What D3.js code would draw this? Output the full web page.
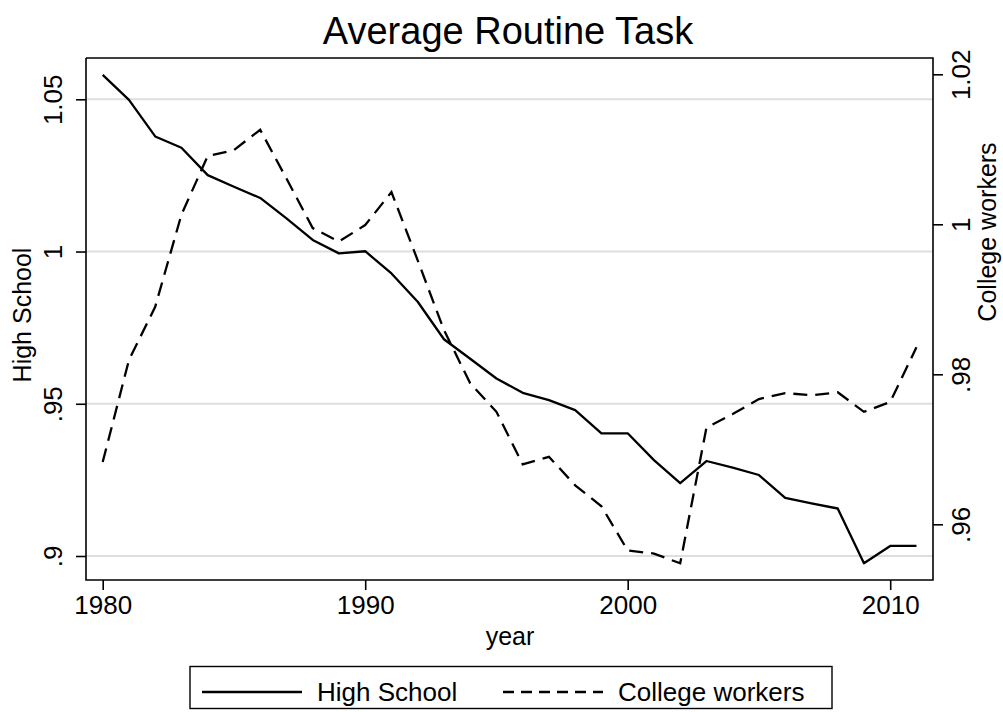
<!DOCTYPE html>
<html>
<head>
<meta charset="utf-8">
<script src="https://cdn.jsdelivr.net/npm/d3@7"></script>
<style>
  body { margin: 0; background: #fff; }
  svg text { font-family: "Liberation Sans", Arial, Helvetica, sans-serif; fill: #000; }
</style>
</head>
<body>
<svg id="chart" width="1003" height="712"></svg>
<script>
const w = 1003, h = 712;

const years = [1980, 1981, 1982, 1983, 1984, 1985, 1986, 1987, 1988, 1989,
               1990, 1991, 1992, 1993, 1994, 1995, 1996, 1997, 1998, 1999,
               2000, 2001, 2002, 2003, 2004, 2005, 2006, 2007, 2008, 2009,
               2010, 2011];
const highSchool = [1.058, 1.0498, 1.0378, 1.0341, 1.0251, 1.0213, 1.0176, 1.0109, 1.0038, 0.9994,
                    1.0001, 0.9928, 0.9835, 0.9712, 0.9648, 0.9583, 0.9536, 0.9512, 0.9479, 0.9403,
                    0.9403, 0.9315, 0.9239, 0.9312, 0.9290, 0.9266, 0.9191, 0.9173, 0.9156, 0.8976,
                    0.9033, 0.9033];
const college = [0.9683, 0.9819, 0.9890, 1.0013, 1.0091, 1.0099, 1.0126, 1.0061, 0.9995, 0.9977,
                 0.9999, 1.0043, 0.9952, 0.9859, 0.9788, 0.9750, 0.9680, 0.9690, 0.9652, 0.9624,
                 0.9565, 0.9561, 0.9548, 0.9729, 0.9747, 0.9767, 0.9775, 0.9772, 0.9776, 0.9750,
                 0.9763, 0.9836];

const xTicks = [1980, 1990, 2000, 2010];
const yLeftTicks = [0.9, 0.95, 1, 1.05];
const yRightTicks = [0.96, 0.98, 1, 1.02];

const plot = {left: 86, right: 933, top: 58, bottom: 580};

const x = d3.scaleLinear().domain([1980, 2010]).range([102.7, 890.2]);
const yL = d3.scaleLinear().domain([0.9, 1.05]).range([556, 99.3]);
const yR = d3.scaleLinear().domain([0.96, 1.02]).range([524.3, 74.3]);

// stata style labels: no leading zero
const fmt = v => String(+v.toFixed(2)).replace(/^0\./, '.');

const svg = d3.select('#chart');

// grid lines (left axis)
svg.append('g').selectAll('line')
   .data(yLeftTicks)
   .enter()
   .append('line')
   .attr('x1', plot.left).attr('x2', plot.right)
   .attr('y1', d => yL(d)).attr('y2', d => yL(d))
   .attr('stroke', '#dedede')
   .attr('stroke-width', 2);

// series
const line = yScale => d3.line().x((d, i) => x(years[i])).y(d => yScale(d));

svg.append('path')
   .datum(highSchool)
   .attr('d', line(yL))
   .attr('fill', 'none')
   .attr('stroke', '#000')
   .attr('stroke-width', 2.3)
   .attr('stroke-linejoin', 'round');

svg.append('path')
   .datum(college)
   .attr('d', line(yR))
   .attr('fill', 'none')
   .attr('stroke', '#000')
   .attr('stroke-width', 2.3)
   .attr('stroke-dasharray', '14,8');

// frame
svg.append('path')
   .attr('d', `M${plot.left},${plot.top}V${plot.bottom}H${plot.right}V${plot.top}H${plot.left}`)
   .attr('fill', 'none')
   .attr('stroke', '#000')
   .attr('stroke-width', 1.6);

// x axis
const xAxis = svg.append('g')
   .attr('transform', `translate(0,${plot.bottom})`)
   .call(d3.axisBottom(x).tickValues(xTicks).tickFormat(d3.format('d')).tickSize(10).tickPadding(6));
xAxis.select('.domain').remove();
xAxis.selectAll('line').attr('stroke-width', 1.6);
xAxis.selectAll('text').attr('font-size', 26).attr('font-family', null);

// left axis
const yAxisL = svg.append('g')
   .attr('transform', `translate(${plot.left},0)`)
   .call(d3.axisLeft(yL).tickValues(yLeftTicks).tickFormat(fmt).tickSize(10));
yAxisL.select('.domain').remove();
yAxisL.selectAll('line').attr('stroke-width', 1.6);
yAxisL.selectAll('text')
   .attr('font-size', 26).attr('font-family', null)
   .attr('x', 0).attr('dy', null)
   .attr('text-anchor', 'middle')
   .attr('transform', 'translate(-24,0) rotate(-90)');

// right axis
const yAxisR = svg.append('g')
   .attr('transform', `translate(${plot.right},0)`)
   .call(d3.axisRight(yR).tickValues(yRightTicks).tickFormat(fmt).tickSize(10));
yAxisR.select('.domain').remove();
yAxisR.selectAll('line').attr('stroke-width', 1.6);
yAxisR.selectAll('text')
   .attr('font-size', 26).attr('font-family', null)
   .attr('x', 0).attr('dy', null)
   .attr('text-anchor', 'middle')
   .attr('transform', 'translate(37,0) rotate(-90)');

// titles
svg.append('text')
   .attr('x', 508).attr('y', 44)
   .attr('text-anchor', 'middle')
   .attr('font-size', 38)
   .text('Average Routine Task');

svg.append('text')
   .attr('x', 510).attr('y', 645)
   .attr('text-anchor', 'middle')
   .attr('font-size', 25)
   .text('year');

svg.append('text')
   .attr('transform', 'translate(31,315) rotate(-90)')
   .attr('text-anchor', 'middle')
   .attr('font-size', 25)
   .text('High School');

svg.append('text')
   .attr('transform', 'translate(996,232) rotate(-90)')
   .attr('text-anchor', 'middle')
   .attr('font-size', 25)
   .text('College workers');

// legend
const legend = svg.append('g');
legend.append('rect')
   .attr('x', 190).attr('y', 666.5)
   .attr('width', 642).attr('height', 42)
   .attr('fill', 'none')
   .attr('stroke', '#000')
   .attr('stroke-width', 1.4);

const legendItems = [
  {label: 'High School', dash: null, x1: 202, x2: 302, tx: 317},
  {label: 'College workers', dash: '11,7', x1: 503, x2: 603, tx: 618}
];
legendItems.forEach(it => {
  legend.append('line')
     .attr('x1', it.x1).attr('x2', it.x2)
     .attr('y1', 692).attr('y2', 692)
     .attr('stroke', '#000')
     .attr('stroke-width', 2.3)
     .attr('stroke-dasharray', it.dash);
  legend.append('text')
     .attr('x', it.tx).attr('y', 701)
     .attr('font-size', 26)
     .text(it.label);
});
</script>
</body>
</html>
